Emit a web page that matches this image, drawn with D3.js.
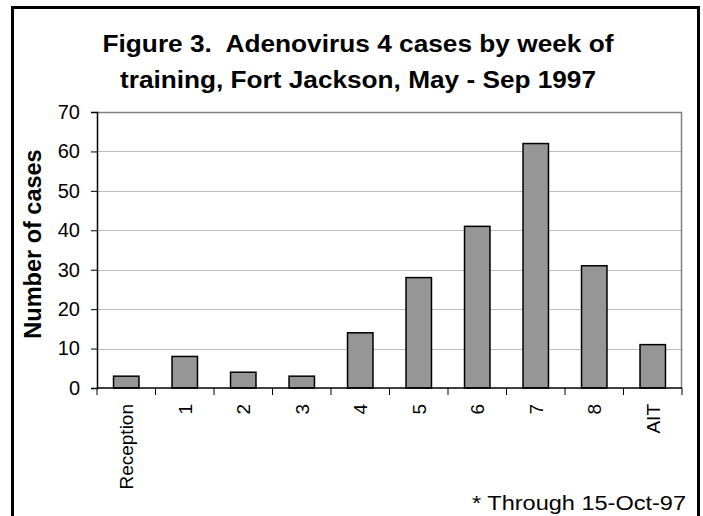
<!DOCTYPE html>
<html>
<head>
<meta charset="utf-8">
<script src="https://cdn.jsdelivr.net/npm/d3@7"></script>
<style>
  body { margin: 0; background: #fff; }
  svg { display: block; font-family: Arial, "Liberation Sans", sans-serif; }
</style>
</head>
<body>
<svg id="chart" width="703" height="516"></svg>
<script>
const weeks = ["Reception", "1", "2", "3", "4", "5", "6", "7", "8", "AIT"];
const cases = [3, 8, 4, 3, 14, 28, 41, 62, 31, 11];
const yTicks = [0, 10, 20, 30, 40, 50, 60, 70];
const titleLines = ["Figure 3.\u00a0 Adenovirus 4 cases by week of", "training, Fort Jackson, May - Sep 1997"];

const width = 703, height = 516;
const margin = { top: 112, right: 21, bottom: 128, left: 97 };
const chartWidth = width - margin.left - margin.right;
const chartHeight = height - margin.top - margin.bottom;

const svg = d3.select("#chart");

// outer frame, open at the bottom edge
svg.append("rect")
  .attr("x", 12.5)
  .attr("y", 7.5)
  .attr("width", 686)
  .attr("height", 530)
  .attr("fill", "none")
  .attr("stroke", "#000")
  .attr("stroke-width", 3);

const titleWidths = [511, 476];
svg.selectAll(".title")
  .data(titleLines)
  .enter()
  .append("text")
  .attr("class", "title")
  .attr("x", 358)
  .attr("y", (d, i) => 51.5 + i * 36)
  .attr("text-anchor", "middle")
  .attr("textLength", (d, i) => titleWidths[i])
  .attr("lengthAdjust", "spacingAndGlyphs")
  .style("font-size", "23px")
  .style("font-weight", "bold")
  .text(d => d);

const x = d3.scaleBand()
  .domain(weeks)
  .range([0, chartWidth])
  .paddingInner(0.565)
  .paddingOuter(0.2825);

const y = d3.scaleLinear()
  .domain([0, 70])
  .range([chartHeight, 0]);

const group = svg.append("g")
  .attr("transform", `translate(${margin.left},${margin.top})`);

// gridlines
group.selectAll(".grid")
  .data(yTicks.filter(t => t > 0 && t < 70))
  .enter()
  .append("line")
  .attr("x1", 0)
  .attr("x2", chartWidth)
  .attr("y1", d => Math.round(y(d)) + 0.5)
  .attr("y2", d => Math.round(y(d)) + 0.5)
  .attr("stroke", "#bdbdbd")
  .attr("stroke-width", 1);

// plot area border (top and right)
group.append("path")
  .attr("d", `M0,0.5H${chartWidth - 0.5}V${chartHeight}`)
  .attr("fill", "none")
  .attr("stroke", "#808080")
  .attr("stroke-width", 1.5);

group.selectAll(".bar")
  .data(cases)
  .enter()
  .append("rect")
  .attr("class", "bar")
  .attr("x", (d, i) => x(weeks[i]))
  .attr("y", d => y(d))
  .attr("width", x.bandwidth())
  .attr("height", d => chartHeight - y(d))
  .attr("fill", "#969696")
  .attr("stroke", "#000")
  .attr("stroke-width", 1.5);

// y axis
const yAxis = d3.axisLeft(y)
  .tickValues(yTicks)
  .tickSize(6)
  .tickPadding(11);

const yg = group.append("g").call(yAxis);
yg.select(".domain").attr("stroke", "#000").attr("stroke-width", 1.5);
yg.selectAll(".tick line").attr("stroke", "#000");
yg.selectAll(".tick text")
  .attr("fill", "#000")
  .style("font-size", "20px")
  .style("font-family", "Arial, 'Liberation Sans', sans-serif");

// x axis: ticks sit on category boundaries
const step = x.step();
const xg = group.append("g")
  .attr("transform", `translate(0,${chartHeight})`);

xg.append("line")
  .attr("x1", 0)
  .attr("x2", chartWidth)
  .attr("stroke", "#000")
  .attr("stroke-width", 1.5);

xg.selectAll(".xtick")
  .data(d3.range(weeks.length + 1))
  .enter()
  .append("line")
  .attr("x1", i => i * step)
  .attr("x2", i => i * step)
  .attr("y1", 0)
  .attr("y2", 7)
  .attr("stroke", "#000");

xg.selectAll(".xlabel")
  .data(weeks)
  .enter()
  .append("text")
  .attr("transform", d => `translate(${x(d) + x.bandwidth() / 2 + 7},16) rotate(-90)`)
  .attr("text-anchor", "end")
  .style("font-size", "19px")
  .text(d => d);

svg.append("text")
  .attr("transform", `translate(41,244) rotate(-90)`)
  .attr("text-anchor", "middle")
  .style("font-size", "23.5px")
  .style("font-weight", "bold")
  .text("Number of cases");

svg.append("text")
  .attr("x", 686)
  .attr("y", 510)
  .attr("text-anchor", "end")
  .attr("textLength", 214)
  .attr("lengthAdjust", "spacingAndGlyphs")
  .style("font-size", "20.5px")
  .text("* Through 15-Oct-97");
</script>
</body>
</html>
